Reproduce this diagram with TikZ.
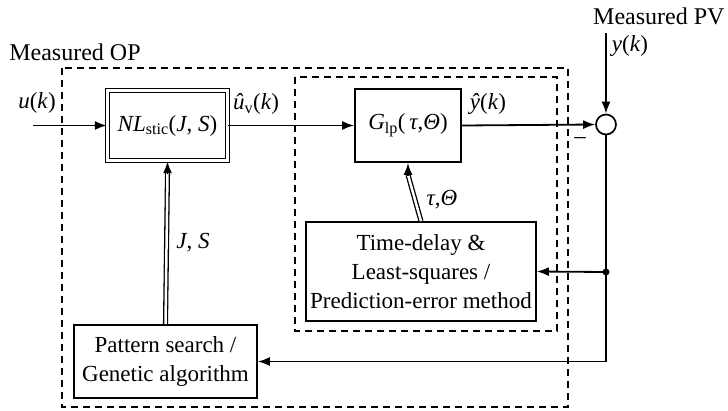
\documentclass[tikz,border=0pt]{standalone}
\usepackage{fontspec}
\setmainfont{Liberation Serif}
\usetikzlibrary{arrows.meta}
\begin{document}
\begin{tikzpicture}[x=1pt,y=-1pt,
  every node/.style={font=\fontsize{23}{29}\selectfont},
  block/.style={draw,line width=1.7pt,inner sep=0pt,align=center},
  dblock/.style={block,double,double distance=2.5pt,line width=1.3pt},
  sig/.style={line width=1.8pt,-{Latex[length=12pt,width=9pt]}},
  dbl/.style={double,double distance=2.5pt,line width=1.3pt},
  frame/.style={line width=1.5pt,dash pattern=on 7pt off 5pt}]
\useasboundingbox (0,0) rectangle (728,410);
\path[draw,frame] (62,68) rectangle (568,407);
\path[draw,frame] (295,77) rectangle (557,331);
\node[dblock,minimum width=120pt,minimum height=70pt] (nl) at (167.5,125.5) {\textit{NL}\textsubscript{stic}(\textit{J}, \textit{S})};
\node[block,minimum width=106pt,minimum height=73pt] (glp) at (408,125.5) {\textit{G}\textsubscript{lp}(\,\textit{τ},\textit{Θ})};
\node[block,minimum width=230pt,minimum height=99pt] (ls) at (421,271.5) {Time-delay \&\\Least-squares /\\Prediction-error method};
\node[block,minimum width=183pt,minimum height=73pt] (ps) at (165.5,361.5) {Pattern search /\\Genetic algorithm};
\node[draw,circle,line width=1.7pt,minimum size=20pt,inner sep=0pt] (sum) at (606,124.5) {};
\coordinate (uin) at (33,125.5);
\coordinate (yin) at (606,33);
\coordinate (tap) at (606,272);
\coordinate (low) at (606,361.5);
\node[font=\fontsize{24}{29}\selectfont] (mop) at (75,52) {Measured OP};
\node[font=\fontsize{24}{29}\selectfont,anchor=east] (mpv) at (728,16) {Measured PV};
\node (uk) at (37,103) {\textit{u}(\textit{k})};
\node (yk) at (630,46) {\textit{y}(\textit{k})};
\node (uv) at (256,104) {\textit{û}\textsubscript{v}(\textit{k})};
\node (yh) at (488,104) {\textit{ŷ}(\textit{k})};
\node (js) at (193,243) {\textit{J}, \textit{S}};
\node (tt) at (442,200) {\textit{τ},\textit{Θ}};
\node (neg) at (580,141) {–};
\path[draw,sig] (uin) -- (nl.west);
\path[draw,sig] (nl.east) -- (glp.west);
\path[draw,sig] (glp.east) -- (sum.west);
\path[draw,sig] (yin) -- (sum.north);
\path[draw,sig] (sum.south) -- (low) -- (ps.east);
\path[draw,sig] (tap) -- (ls.east);
\fill (tap) circle (3.5pt);
\path[draw,dbl] (ps.north) -- ([yshift=-12pt]nl.south);
\path[draw,sig] ([yshift=-13pt]nl.south) -- (nl.south);
\path[draw,dbl] (ls.north) -- ([yshift=-12pt]glp.south);
\path[draw,sig] ([yshift=-13pt]glp.south) -- (glp.south);
\end{tikzpicture}
\end{document}
